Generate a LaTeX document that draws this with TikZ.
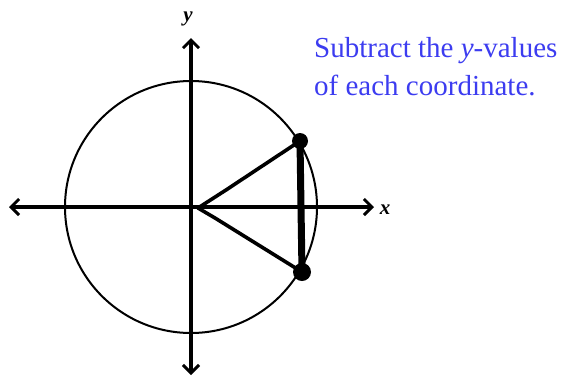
\documentclass[tikz,border=0pt]{standalone}
\usepackage{fontspec}
\setmainfont{Liberation Serif}
\usetikzlibrary{arrows.meta, positioning}
\definecolor{noteblue}{RGB}{60,60,240}

\begin{document}
\begin{tikzpicture}[x=1pt, y=-1pt, >={Straight Barb[length=8pt, width=16pt, line width=3pt]},
    axis/.style={line width=3.2pt, ->},
    chord/.style={line width=3.6pt, line cap=round, line join=round},
    label/.style={font=\fontsize{21}{21}\selectfont\bfseries\itshape}]
    \useasboundingbox (0,0) rectangle (566,376);
    % Unit circle
    \coordinate (O) at (191,207);
    \draw[line width=2pt] (O) circle (126);
    % Axes
    \draw[axis] (O) -- (9,207);
    \draw[axis] (O) -- (374,207);
    \draw[axis] (O) -- (191,38);
    \draw[axis] (O) -- (191,375);
    \node[label] (ylab) at (188,19) {y};
    \node[label] (xlab) at (385,210) {x};
    % Points and triangle
    \coordinate (V) at (198,208);
    \coordinate (P) at (300,141);
    \coordinate (Q) at (302,272);
    \fill (P) circle (8);
    \fill (Q) circle (9);
    \draw[chord] (V) -- (226,190) -- (P);
    \draw[chord] (V) -- (215,218) -- (Q);
    \draw[line width=7pt] (P) -- (Q);
    % Note
    \node[noteblue, anchor=north west, align=left, inner sep=0pt,
      font=\fontsize{29}{38}\selectfont] (note) at (314,37)
      {Subtract the \textit{y}-values\\of each coordinate.};
\end{tikzpicture}
\end{document}
